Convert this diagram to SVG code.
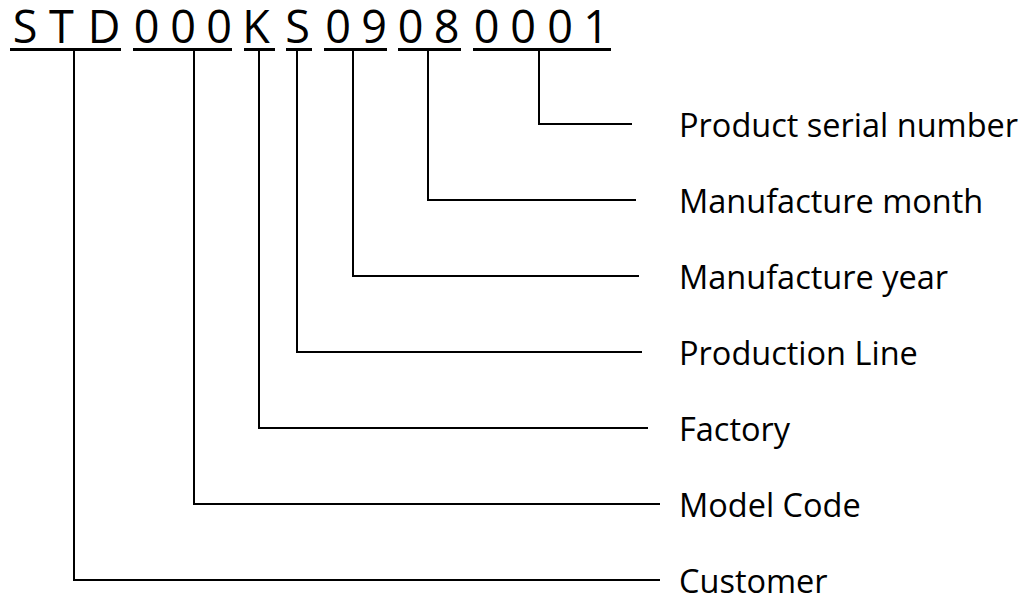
<svg xmlns="http://www.w3.org/2000/svg" width="1029" height="600" viewBox="0 0 1029 600">
<style>
.code{font-family:"Open Sans","Noto Sans",sans-serif;font-size:45px;fill:#000;text-anchor:middle}
.lbl{font-family:"Open Sans","Noto Sans",sans-serif;font-size:32.5px;fill:#000}
.ul{stroke:#000;stroke-width:3;fill:none}
.con{stroke:#000;stroke-width:2;fill:none}
</style>
<rect width="1029" height="600" fill="#fff"/>
<g id="code">
<text class="code" x="25 61.5 104" y="42.5">STD</text>
<text class="code" x="146.5 183 219" y="42.5">000</text>
<text class="code" x="256" y="42.5">K</text>
<text class="code" x="297.5" y="42.5">S</text>
<text class="code" x="338 374" y="42.5">09</text>
<text class="code" x="410.5 446.5" y="42.5">08</text>
<text class="code" x="486.5 523 560 596" y="42.5">0001</text>
<line class="ul" x1="10" y1="49.5" x2="121" y2="49.5"/>
<line class="ul" x1="133" y1="49.5" x2="232" y2="49.5"/>
<line class="ul" x1="244" y1="49.5" x2="275" y2="49.5"/>
<line class="ul" x1="286" y1="49.5" x2="312" y2="49.5"/>
<line class="ul" x1="324" y1="49.5" x2="387" y2="49.5"/>
<line class="ul" x1="398" y1="49.5" x2="461" y2="49.5"/>
<line class="ul" x1="473" y1="49.5" x2="611" y2="49.5"/>
</g>
<g id="connectors">
<path class="con" d="M74 51V580H660"/>
<path class="con" d="M194 51V504H660"/>
<path class="con" d="M259 51V428H648"/>
<path class="con" d="M297 51V352H642"/>
<path class="con" d="M353 51V276H639"/>
<path class="con" d="M428 51V200H636"/>
<path class="con" d="M539 51V124H632"/>
</g>
<g id="label-serial"><text class="lbl" x="679" y="137">Product serial number</text></g>
<g id="label-month"><text class="lbl" x="679" y="213">Manufacture month</text></g>
<g id="label-year"><text class="lbl" x="679" y="289">Manufacture year</text></g>
<g id="label-line"><text class="lbl" x="679" y="365">Production Line</text></g>
<g id="label-factory"><text class="lbl" x="679" y="441">Factory</text></g>
<g id="label-model"><text class="lbl" x="679" y="517">Model Code</text></g>
<g id="label-customer"><text class="lbl" x="679" y="593">Customer</text></g>
</svg>
